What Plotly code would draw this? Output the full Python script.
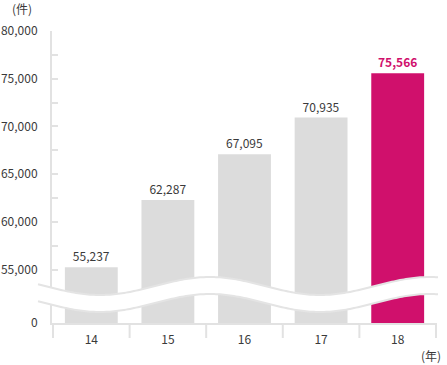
import math
import plotly.graph_objects as go

categories = ["14", "15", "16", "17", "18"]
values = [55237, 62287, 67095, 70935, 75566]
highlight = "18"
ytick_vals = [55000, 57500, 60000, 62500, 65000, 67500, 70000, 72500, 75000, 77500, 80000]
ytick_text = ["55,000", "", "60,000", "", "65,000", "", "70,000", "", "75,000", "", "80,000"]
zero_label = "0"

GREY = "#dcdcdc"
MAG = "#d0106c"
AX = "#e2e2e2"
TXT = "#3a3a3a"
FONT = "Noto Sans CJK JP"

W, H = 447, 365
L, R, T, B = 52, 10, 31, 42
Y_LO, Y_HI = 49400, 80000

colors = [MAG if c == highlight else GREY for c in categories]
text_colors = [MAG if c == highlight else TXT for c in categories]
text_weights = ["bold" if c == highlight else "normal" for c in categories]

fig = go.Figure()
fig.add_trace(go.Bar(
    x=categories, y=values,
    marker=dict(color=colors, line=dict(width=0)),
    text=[f"{v:,}" for v in values],
    textposition="outside",
    textfont=dict(color=text_colors, size=12, family=FONT, weight=text_weights),
    cliponaxis=False,
    hoverinfo="skip",
))

fig.update_layout(
    width=W, height=H,
    margin=dict(l=L, r=R, t=T, b=B, pad=0, autoexpand=False),
    paper_bgcolor="white", plot_bgcolor="white",
    showlegend=False,
    bargap=0.31,
    font=dict(family=FONT, size=12, color=TXT),
    xaxis=dict(type="category", showgrid=False, zeroline=False,
               showline=True, linecolor=AX, linewidth=2,
               ticks="", ticklabelstandoff=5, automargin=False,
               tickfont=dict(size=12, color=TXT, family=FONT)),
    yaxis=dict(range=[Y_LO, Y_HI], showgrid=False, zeroline=False,
               showline=True, linecolor=AX, linewidth=2,
               ticks="inside", ticklen=6, tickwidth=2, tickcolor=AX,
               tickmode="array", automargin=False,
               tickvals=[Y_LO] + ytick_vals,
               ticktext=[zero_label] + ytick_text,
               ticklabelstandoff=10,
               tickfont=dict(size=12, color=TXT, family=FONT)),
)

# category boundary separators below the x axis
plot_h = H - T - B
for i in range(len(categories) + 1):
    fig.add_shape(type="line", xref="x", yref="paper",
                  x0=i - 0.5, x1=i - 0.5, y0=0, y1=-15 / plot_h,
                  line=dict(color=AX, width=2), layer="above")

# wavy axis-break band (decoration, pixel geometry -> paper coords)
plot_w = W - L - R
def px2paper(px, py):
    return (px - L) / plot_w, (H - B - py) / plot_h

xs = [38 + k * 2 for k in range(0, 201)]
upper = [(x, 286 + 9 * math.cos(2 * math.pi * (x - 100) / 220)) for x in xs]
lower = [(x, y + 17) for x, y in upper]

def path_of(pts, close=False):
    s = ""
    for j, (x, y) in enumerate(pts):
        u, v = px2paper(x, y)
        s += ("M" if j == 0 else "L") + f"{u:.5f},{v:.5f} "
    if close:
        s += "Z"
    return s

fig.add_shape(type="path", xref="paper", yref="paper",
              path=path_of(upper + lower[::-1], close=True),
              fillcolor="white", line=dict(width=0), layer="above")
for edge in (upper, lower):
    fig.add_shape(type="path", xref="paper", yref="paper",
                  path=path_of(edge), line=dict(color="#e4e4e4", width=2),
                  layer="above")

fig.add_annotation(text="(件)", xref="paper", yref="paper",
                   x=px2paper(22, 0)[0], y=px2paper(0, 9)[1],
                   showarrow=False, font=dict(size=12, color=TXT, family=FONT),
                   xanchor="center", yanchor="middle")
fig.add_annotation(text="(年)", xref="paper", yref="paper",
                   x=px2paper(431, 0)[0], y=px2paper(0, 355)[1],
                   showarrow=False, font=dict(size=12, color=TXT, family=FONT),
                   xanchor="center", yanchor="middle")

fig.write_html("out.html",
               config={"displayModeBar": False},
               post_script="document.body.style.margin='0';document.body.style.overflow='hidden';")
